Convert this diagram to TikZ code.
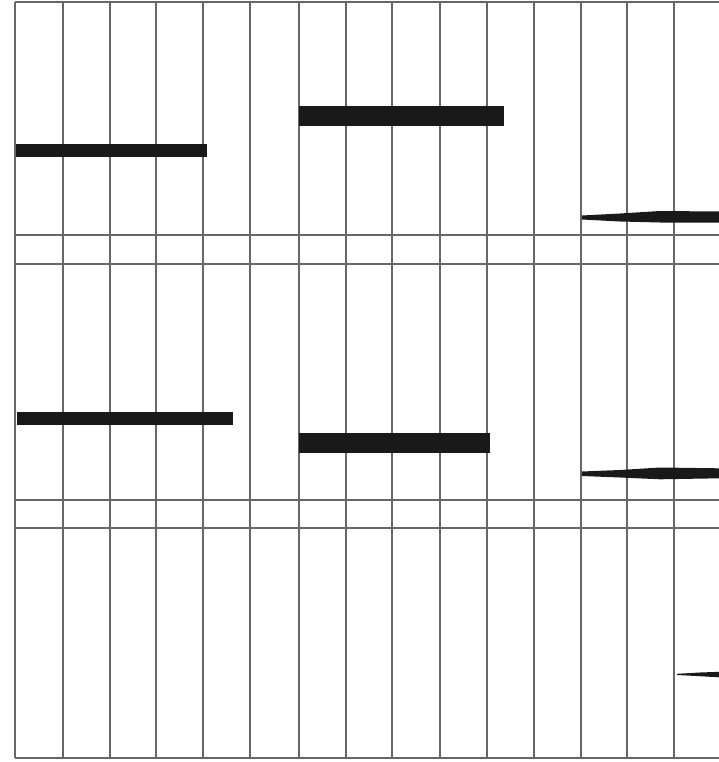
\documentclass[tikz,border=0pt]{standalone}
\begin{document}
\begin{tikzpicture}[x=1pt,y=-1pt,
  gridline/.style={draw=black!60,line width=1.2pt},
  barfill/.style={fill=black!90,draw=none}]
\useasboundingbox (0,0) rectangle (719,762);
% vertical lines
\foreach \x in {15,63,110,156,203,250,299,346,392,440,487,534,581,627,674}
  \draw[gridline] (\x,2) -- (\x,758);
% horizontal lines
\draw[gridline] (15,2) -- (719,2);
\foreach \y in {235,264,500,528}
  \draw[gridline] (15,\y) -- (719,\y);
\draw[gridline] (15,758) -- (719,758);
% bars
\fill[barfill] (16,144) rectangle (207,157);
\fill[barfill] (299,106) rectangle (504,126);
\fill[barfill] (17,412) rectangle (233,425);
\fill[barfill] (299,433) rectangle (490,453);
% tapered bars
\fill[barfill] (582,215.5) -- (620,213.5) -- (660,211) -- (719,211.5) -- (719,222.5) -- (660,222.5) -- (620,221.5) -- (582,219.5) -- cycle;
\fill[barfill] (582,471.5) -- (620,470) -- (660,467.5) -- (719,468.3) -- (719,478.3) -- (660,479.3) -- (620,477.5) -- (582,476) -- cycle;
\fill[barfill] (677,673.8) -- (700,672.5) -- (719,671.8) -- (719,677.3) -- (700,676.2) -- (677,675) -- cycle;
\end{tikzpicture}
\end{document}
